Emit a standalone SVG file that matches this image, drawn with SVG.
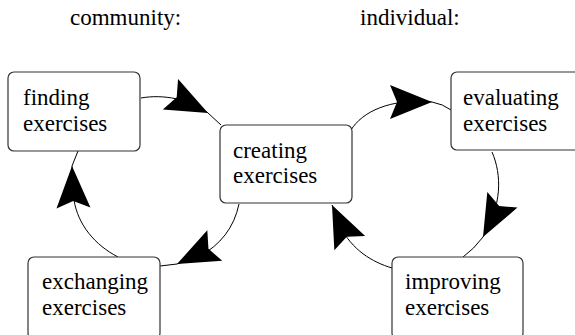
<svg xmlns="http://www.w3.org/2000/svg" xmlns:xlink="http://www.w3.org/1999/xlink" width="575" height="335" viewBox="0 0 575 335">
<style>
.t{font-family:'Liberation Serif','Times New Roman','DejaVu Serif',serif;font-size:23px;fill:#000}
.box{fill:#fff;stroke:#333;stroke-width:1.2}
.conn{fill:none;stroke:#000;stroke-width:1}
</style>
<defs>
<polygon id="ah" points="0,0 -42,-17 -35,0 -42,17" fill="#000"/>
</defs>
<rect width="575" height="335" fill="#fff"/>
<text class="t" font-family="Liberation Serif, serif" x="70" y="25">community:</text>
<text class="t" font-family="Liberation Serif, serif" x="360" y="25">individual:</text>
<g id="connectors">
<path class="conn" d="M141,98 C163,94 190,99 208,113 L221,125"/>
<use xlink:href="#ah" transform="translate(208,113) rotate(26.6)"/>
<path class="conn" d="M351,130 C362,112 390,98 432,102 Q443,104 451,110"/>
<use xlink:href="#ah" transform="translate(432,102)"/>
<path class="conn" d="M492,152 C502,175 502,205 483,237 Q474,249 463,257"/>
<use xlink:href="#ah" transform="translate(483,237) rotate(117.5)"/>
<path class="conn" d="M392,268 C372,262 352,250 340,226 L332,205"/>
<use xlink:href="#ah" transform="translate(332,205) rotate(245)"/>
<path class="conn" d="M239,204 C234,228 220,245 200,256 L177,264 L160,266"/>
<use xlink:href="#ah" transform="translate(177,264) rotate(154)"/>
<path class="conn" d="M118,257 C95,245 78,225 74,200 L72,166 L78,151"/>
<use xlink:href="#ah" transform="translate(72,166) rotate(-92)"/>
</g>
<g id="finding">
<rect class="box" x="8" y="72" width="132" height="79" rx="6"/>
<text class="t" x="23" y="105">finding</text>
<text class="t" x="23" y="131">exercises</text>
</g>
<g id="creating">
<rect class="box" x="220" y="125" width="132" height="78" rx="6"/>
<text class="t" x="233" y="158">creating</text>
<text class="t" x="233" y="183">exercises</text>
</g>
<g id="evaluating">
<rect class="box" x="451" y="72" width="132" height="78" rx="6"/>
<text class="t" x="463" y="105">evaluating</text>
<text class="t" x="463" y="131">exercises</text>
</g>
<g id="exchanging">
<rect class="box" x="28" y="257" width="132" height="82" rx="6"/>
<text class="t" x="42" y="289">exchanging</text>
<text class="t" x="42" y="315">exercises</text>
</g>
<g id="improving">
<rect class="box" x="392" y="257" width="131" height="82" rx="6"/>
<text class="t" x="405" y="289">improving</text>
<text class="t" x="405" y="315">exercises</text>
</g>
</svg>
